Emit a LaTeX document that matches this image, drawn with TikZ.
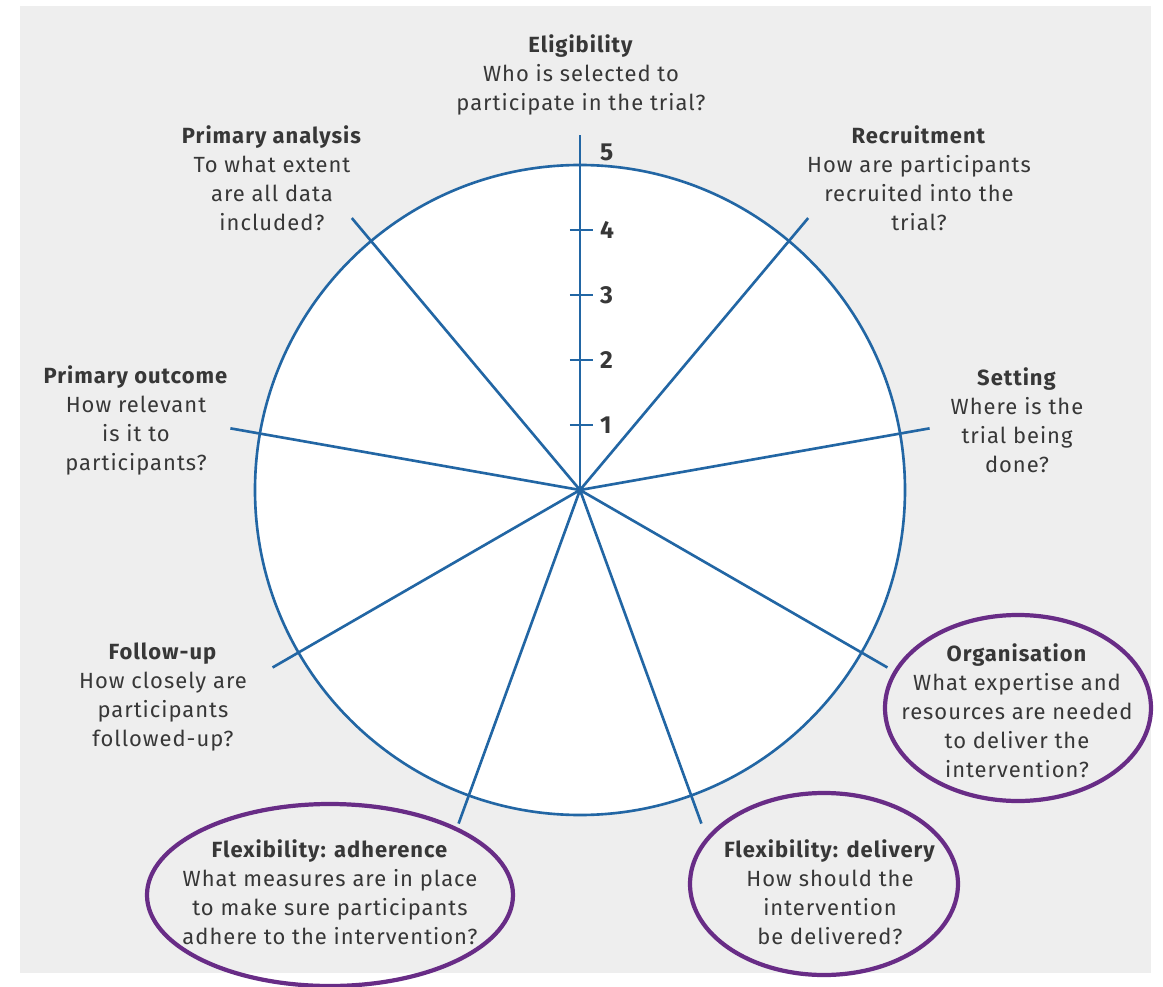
\documentclass[tikz,border=0pt]{standalone}
\usepackage{fontspec}
\setmainfont{Fira Sans}[LetterSpace=4.5]
\usepackage{xcolor}
\usepackage{tikz}
\usetikzlibrary{positioning}
\definecolor{wheelblue}{RGB}{34,102,164}
\definecolor{ringpurple}{RGB}{104,44,134}
\definecolor{panelgray}{RGB}{238,238,238}
\definecolor{textgray}{RGB}{55,55,55}

\begin{document}
\begin{tikzpicture}[
    spoke/.style={draw=wheelblue, line width=1.5pt},
    dimlabel/.style={align=center, text=textgray, font=\fontsize{12.5}{16.5}\selectfont},
    score/.style={text=textgray, font=\fontsize{14}{16}\selectfont\bfseries},
    ring/.style={draw=ringpurple, line width=2.4pt}
  ]
    % Page size and grey panel
    \useasboundingbox (-11.6,-9.94) rectangle (11.66,9.8);
    \fill[panelgray] (-11.2,-9.66) rectangle (11.42,9.68);

    % Wheel
    \coordinate (hub) at (0,0);
    \filldraw[fill=white, spoke] (hub) circle (6.5);

    % Spokes, one per domain (every 40 degrees)
    \foreach \ang/\nm in {90/elig, 50/recr, 10/sett, -30/orgn, -70/deli,
                          -110/adhe, -150/foll, 170/outc, 130/anal}
        \coordinate (\nm) at (\ang:7.1);
    \foreach \nm in {elig, recr, sett, orgn, deli, adhe, foll, outc, anal}
        \draw[spoke] (hub) -- (\nm);

    % Scale on the eligibility axis
    \foreach \k in {1,...,4} {
        \draw[spoke] (-0.2,1.3*\k) -- (0.26,1.3*\k);
        \node[score, anchor=west] (tick\k) at (0.28,1.3*\k) {\k};
    }
    \node[score, anchor=west] (tick5) at (0.28,6.76) {5};

    % Domain labels
    \node[dimlabel] (eligtxt) at (0.02,8.3)
        {\textbf{Eligibility}\\Who is selected to\\participate in the trial?};
    \node[dimlabel] (recrtxt) at (6.78,6.24)
        {\textbf{Recruitment}\\How are participants\\recruited into the\\trial?};
    \node[dimlabel] (analtxt) at (-6.16,6.24)
        {\textbf{Primary analysis}\\To what extent\\are all data\\included?};
    \node[dimlabel] (setttxt) at (8.74,1.4)
        {\textbf{Setting}\\Where is the\\trial being\\done?};
    \node[dimlabel] (outctxt) at (-8.88,1.4)
        {\textbf{Primary outcome}\\How relevant\\is it to\\participants?};
    \node[dimlabel] (folltxt) at (-8.34,-4.14)
        {\textbf{Follow-up}\\How closely are\\participants\\followed-up?};
    \node[dimlabel] (orgntxt) at (8.74,-4.42)
        {\textbf{Organisation}\\What expertise and\\resources are needed\\to deliver the\\intervention?};
    \node[dimlabel] (delitxt) at (5.0,-8.04)
        {\textbf{Flexibility: delivery}\\How should the\\intervention\\be delivered?};
    \node[dimlabel] (adhetxt) at (-5.0,-8.04)
        {\textbf{Flexibility: adherence}\\What measures are in place\\to make sure participants\\adhere to the intervention?};

    % Highlighted domains
    \draw[ring] (8.76,-4.36) ellipse [x radius=2.66, y radius=1.86];
    \draw[ring] (4.88,-7.88) ellipse [x radius=2.68, y radius=1.82];
    \draw[ring] (-5.0,-8.1) ellipse [x radius=3.66, y radius=1.82];
\end{tikzpicture}
\end{document}
